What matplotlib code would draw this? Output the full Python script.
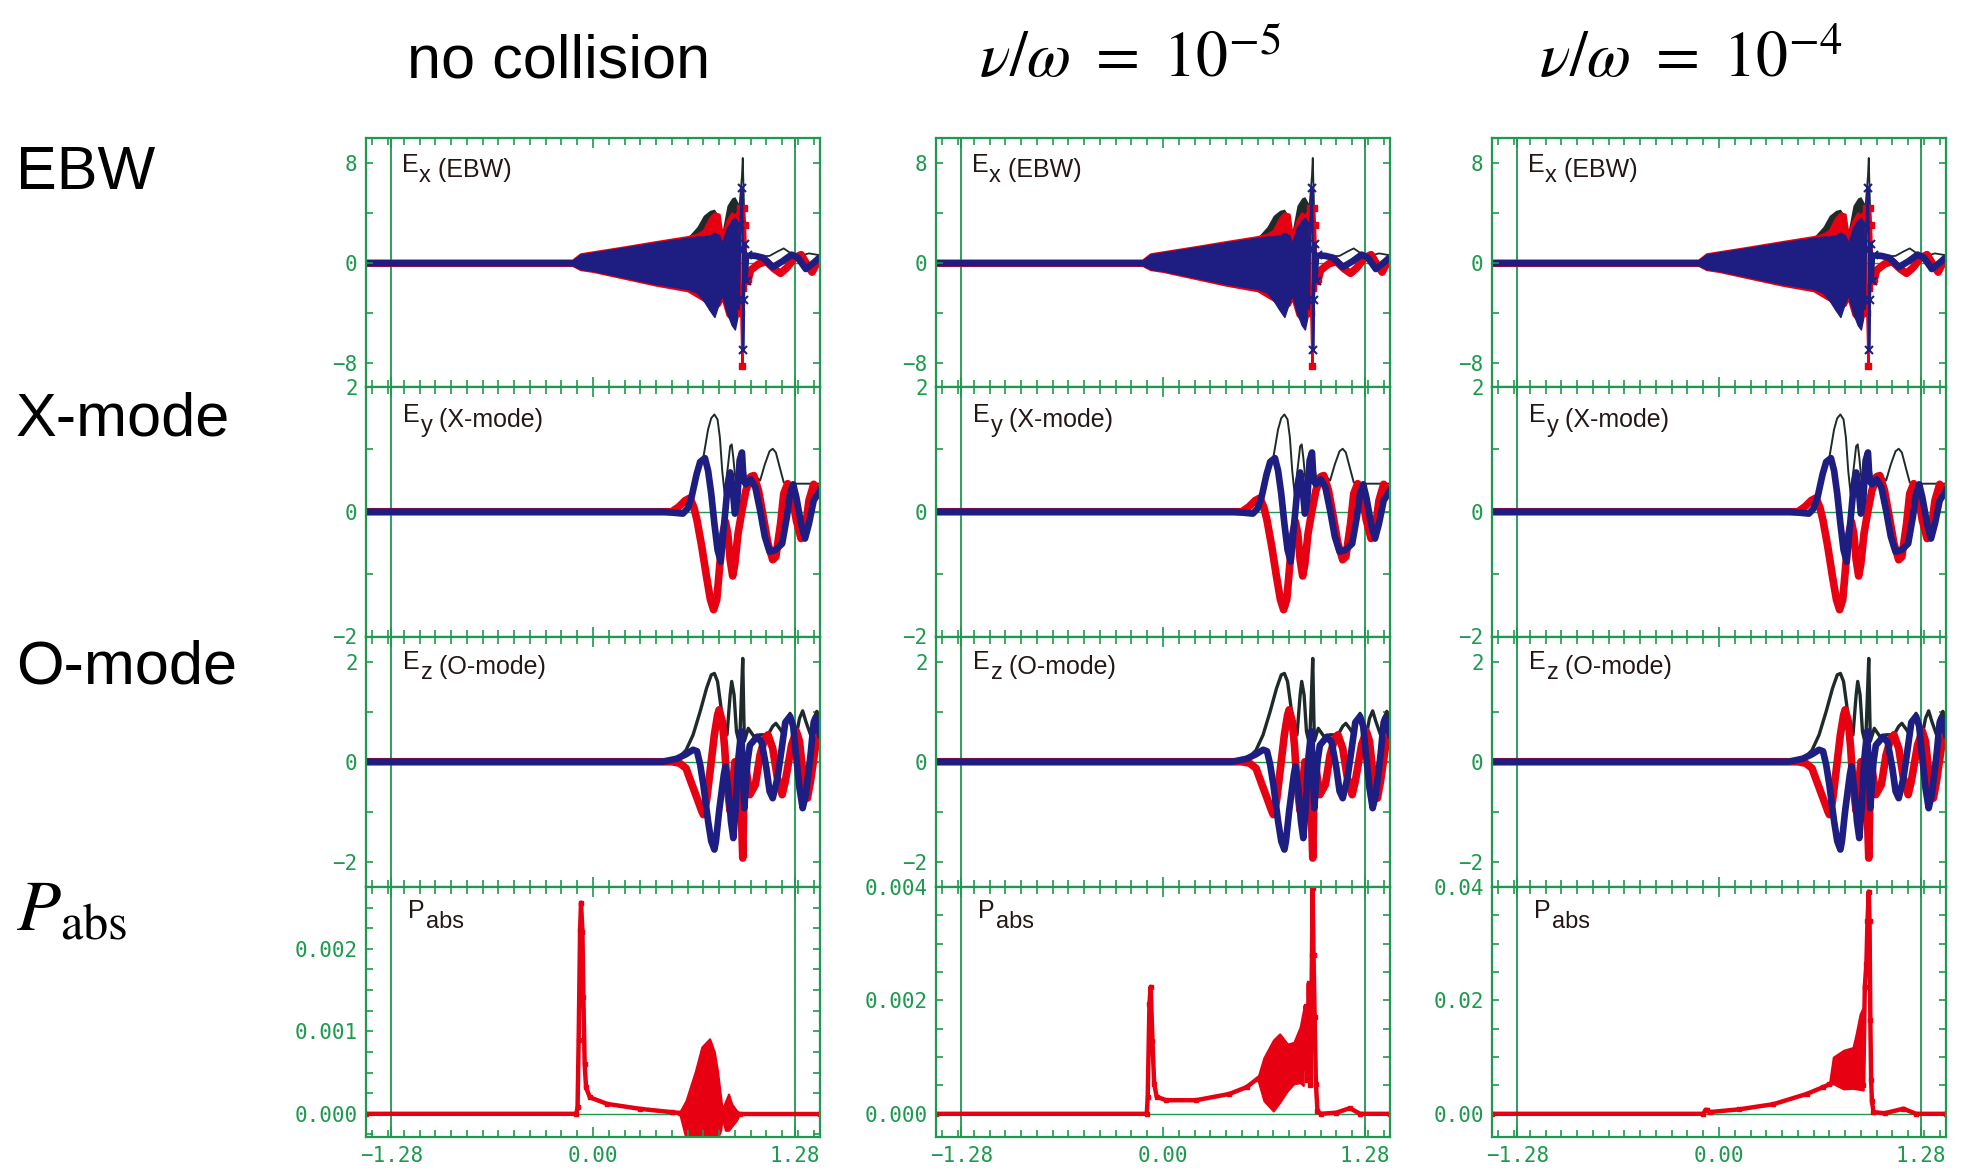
import numpy as np
import matplotlib.pyplot as plt
from matplotlib.ticker import MultipleLocator

plt.rcParams['font.family'] = ['Liberation Sans', 'DejaVu Sans']
plt.rcParams['mathtext.fontset'] = 'stix'

GREEN = '#1d9a4e'
RED = '#e60012'
BLUE = '#1e1e82'
DARK = '#1f2b2b'
TXT = '#231815'

# ---- column / row titles
col_titles = ['no collision', r'$\nu/\omega\ =\ 10^{-5}$', r'$\nu/\omega\ =\ 10^{-4}$']
row_titles = ['EBW', 'X-mode', 'O-mode', r'$P_{\mathrm{abs}}$']
# panel label pieces: main letter, lowered letters, rest
panel_main = ['E', 'E', 'E', 'P']
panel_sub = ['x', 'y', 'z', 'abs']
panel_rest = [' (EBW)', ' (X-mode)', ' (O-mode)', '']

# ---- Ex (EBW): envelope of the fast oscillation, then spike and tail
ebw_env_x = [-1.44, -0.13, -0.08, 0.00, 0.20, 0.40, 0.60, 0.66, 0.70, 0.74, 0.77, 0.80, 0.82, 0.85, 0.88, 0.90, 0.93]
ebw_blk_hi = [0.0, 0.15, 0.70, 0.85, 1.25, 1.65, 2.05, 2.9, 3.8, 4.2, 4.3, 3.7, 2.6, 4.6, 5.2, 5.3, 4.6]
ebw_red_hi = [0.22, 0.22, 0.72, 0.88, 1.28, 1.70, 2.10, 2.3, 2.6, 3.6, 4.0, 3.9, 2.2, 3.4, 4.0, 3.8, 4.4]
ebw_red_lo = [-0.22, -0.22, -0.55, -0.70, -1.25, -1.80, -2.25, -2.7, -3.0, -3.4, -3.6, -3.4, -2.9, -4.2, -4.6, -4.3, -3.8]
ebw_blu_hi = [0.2, 0.2, 0.65, 0.82, 1.22, 1.62, 2.00, 2.1, 2.1, 2.2, 2.4, 2.2, 1.6, 2.8, 3.4, 3.6, 3.0]
ebw_blu_lo = [-0.2, -0.2, -0.50, -0.64, -1.17, -1.70, -2.10, -2.4, -3.0, -3.8, -4.35, -3.2, -2.6, -4.0, -5.0, -5.35, -3.5]

ebw_spk_red_x = [0.93, 0.94, 0.948, 0.952, 0.958, 0.965, 0.975, 0.985]
ebw_spk_red_y = [4.4, -4.0, -8.3, -2.0, 4.4, 3.0, -1.5, -1.3]
ebw_spk_blu_x = [0.925, 0.935, 0.945, 0.950, 0.953, 0.958, 0.965, 0.975, 0.985]
ebw_spk_blu_y = [-3.0, 3.0, 6.0, 1.0, -7.0, -3.0, 1.5, -1.5, 0.6]

ebw_red_x = [0.985, 1.00, 1.05, 1.10, 1.15, 1.19, 1.23, 1.28, 1.32, 1.36, 1.39, 1.44]
ebw_red_y = [-1.3, -0.6, -0.1, 0.1, -0.5, -0.85, -0.4, 0.4, 0.65, -0.2, -0.75, 0.45]
ebw_blu_x = [0.985, 1.03, 1.08, 1.14, 1.20, 1.26, 1.30, 1.35, 1.40, 1.44]
ebw_blu_y = [0.6, 0.55, 0.4, -0.35, 0.1, 0.65, 0.4, -0.5, 0.0, 0.45]
ebw_blk_x = [0.93, 0.945, 0.95, 0.955, 0.965, 0.99, 1.05, 1.12, 1.17, 1.21, 1.25, 1.30, 1.37, 1.44]
ebw_blk_y = [4.6, 7.0, 8.4, 6.0, 0.9, 0.6, 0.5, 0.55, 0.9, 1.15, 0.8, 0.5, 0.75, 0.6]

# ---- Ey (X-mode)
ey_red_x = [-1.44, 0.50, 0.545, 0.585, 0.615, 0.64, 0.66, 0.69, 0.72, 0.745, 0.765, 0.785, 0.80, 0.82, 0.84,
            0.855, 0.87, 0.886, 0.90, 0.92, 0.945, 0.97, 1.00, 1.02, 1.05, 1.08, 1.11, 1.14, 1.16, 1.19,
            1.21, 1.235, 1.26, 1.29, 1.32, 1.345, 1.37, 1.40, 1.44]
ey_red_y = [0, 0, 0.08, 0.18, 0.22, 0.07, -0.14, -0.56, -1.04, -1.41, -1.57, -1.41, -0.98, -0.40, -0.16,
            -0.35, -0.77, -1.03, -0.83, -0.35, 0.02, 0.34, 0.56, 0.58, 0.34, -0.08, -0.51, -0.77, -0.72, -0.19,
            0.29, 0.45, 0.29, -0.14, -0.43, -0.30, 0.18, 0.44, 0.29]
ey_blu_x = [-1.44, 0.45, 0.57, 0.60, 0.625, 0.657, 0.68, 0.71, 0.73, 0.75, 0.77, 0.79, 0.81, 0.82, 0.84,
            0.855, 0.87, 0.885, 0.90, 0.915, 0.93, 0.945, 0.955, 0.97, 1.00, 1.03, 1.06, 1.09, 1.12, 1.16,
            1.20, 1.23, 1.25, 1.27, 1.29, 1.32, 1.345, 1.37, 1.40, 1.44]
ey_blu_y = [0, 0, -0.03, 0.05, 0.23, 0.60, 0.80, 0.86, 0.66, 0.29, -0.19, -0.61, -0.80, -0.51, 0.02,
            0.44, 0.63, 0.39, -0.03, 0.18, 0.82, 0.95, 0.50, 0.44, 0.52, 0.39, 0.02, -0.40, -0.64, -0.61,
            -0.51, -0.08, 0.29, 0.44, 0.23, -0.19, -0.43, -0.19, 0.18, 0.34]
ey_blk_x = [-1.44, 0.57, 0.60, 0.657, 0.70, 0.73, 0.75, 0.77, 0.79, 0.805, 0.82, 0.835, 0.855, 0.87, 0.88,
            0.89, 0.91, 0.92, 0.94, 0.95, 0.97, 1.00, 1.04, 1.06, 1.09, 1.12, 1.14, 1.16, 1.19, 1.21,
            1.23, 1.44]
ey_blk_y = [0, 0, 0.05, 0.50, 0.87, 1.32, 1.50, 1.56, 1.48, 1.19, 0.65, 0.29, 0.71, 1.05, 1.08,
            0.87, 0.34, 0.29, 0.82, 0.92, 0.55, 0.61, 0.55, 0.50, 0.76, 0.97, 1.01, 0.95, 0.66, 0.47,
            0.45, 0.45]

# ---- Ez (O-mode)
ez_red_x = [-1.44, 0.50, 0.55, 0.59, 0.62, 0.66, 0.69, 0.70, 0.72, 0.745, 0.77, 0.79, 0.80, 0.82, 0.835,
            0.85, 0.87, 0.88, 0.90, 0.92, 0.94, 0.95, 0.96, 0.97, 0.995, 1.03, 1.06, 1.09, 1.11, 1.14,
            1.17, 1.20, 1.22, 1.26, 1.29, 1.31, 1.33, 1.36, 1.38, 1.41, 1.44]
ez_red_y = [0, 0, -0.03, -0.13, -0.39, -0.73, -0.99, -1.06, -0.79, -0.13, 0.54, 0.93, 1.04, 0.81, 0.29,
            -0.46, -0.99, -0.66, 0.0, -0.13, -0.93, -1.93, -0.26, -0.13, -0.66, -0.46, 0.14, 0.47, 0.54, 0.27,
            -0.33, -0.66, -0.39, 0.34, 0.61, 0.41, -0.19, -0.73, -0.39, 0.27, 0.54]
ez_blu_x = [-1.44, 0.44, 0.53, 0.59, 0.635, 0.66, 0.68, 0.70, 0.73, 0.75, 0.77, 0.78, 0.80, 0.83, 0.84,
            0.86, 0.875, 0.89, 0.905, 0.92, 0.94, 0.95, 0.96, 0.98, 0.995, 1.04, 1.07, 1.10, 1.12, 1.14,
            1.17, 1.20, 1.22, 1.25, 1.27, 1.29, 1.31, 1.33, 1.35, 1.38, 1.40, 1.41, 1.44]
ez_blu_y = [0, 0, 0.06, 0.15, 0.24, 0.21, -0.06, -0.46, -1.19, -1.59, -1.76, -1.59, -0.99, -0.26, -0.09,
            -0.59, -1.19, -1.53, -0.93, 0.0, 0.61, -0.13, -0.93, 0.0, 0.33, 0.50, 0.39, -0.13, -0.59, -0.73,
            -0.33, 0.33, 0.79, 0.91, 0.71, 0.07, -0.53, -0.93, -0.66, 0.14, 0.79, 0.87, 0.54]
ez_blk_x = [-1.44, 0.53, 0.59, 0.635, 0.68, 0.72, 0.75, 0.77, 0.79, 0.81, 0.83, 0.85, 0.87, 0.88, 0.895,
            0.91, 0.93, 0.94, 0.95, 0.955, 0.96, 0.985, 1.02, 1.06, 1.11, 1.14, 1.16, 1.19, 1.21, 1.23,
            1.25, 1.26, 1.29, 1.31, 1.33, 1.35, 1.38, 1.40, 1.42, 1.44]
ez_blk_y = [0, 0.04, 0.23, 0.54, 1.01, 1.47, 1.74, 1.77, 1.61, 1.14, 0.67, 0.54, 1.34, 1.61, 1.34,
            0.61, 0.34, 1.21, 2.07, 1.21, 0.41, 0.67, 0.51, 0.54, 0.54, 0.71, 0.77, 0.64, 0.54, 0.84,
            0.97, 0.81, 0.54, 0.87, 1.02, 0.81, 0.54, 0.87, 1.01, 0.74]

# ---- Pabs, one set per column: line, oscillating blob envelope, spike/tail
pabs_x = [
    [-1.44, -0.105, -0.098, -0.091, -0.082, -0.076, -0.067, -0.061, -0.053, -0.044, -0.02, 0.09, 0.30, 0.50, 0.55],
    [-1.44, -0.103, -0.097, -0.086, -0.078, -0.067, -0.056, -0.04, 0.02, 0.21, 0.42, 0.53, 0.60],
    [-1.44, -0.10, -0.085, -0.075, -0.06, 0.13, 0.345, 0.556, 0.66, 0.70],
]
pabs_y = [
    [0, 0, 0.00008, 0.00089, 0.00223, 0.00256, 0.00221, 0.00142, 0.00061, 0.00032, 0.0002, 0.00012, 0.00006, 0.00002, 0.00001],
    [0, 0, 0.00029, 0.00194, 0.00224, 0.00129, 0.00053, 0.0003, 0.00024, 0.00024, 0.00035, 0.00047, 0.00062],
    [0, 0, 0.0007, 0.0006, 0.0003, 0.0008, 0.0017, 0.0035, 0.0047, 0.0052],
]
pabs_blob_x = [
    [0.55, 0.59, 0.65, 0.69, 0.74, 0.77, 0.79, 0.81, 0.82, 0.84, 0.86, 0.88, 0.91, 0.93],
    [0.60, 0.64, 0.70, 0.74, 0.79, 0.83, 0.87, 0.89],
    [0.70, 0.725, 0.79, 0.85, 0.87, 0.895, 0.915],
]
pabs_blob_hi = [
    [0.00002, 0.00016, 0.00052, 0.00081, 0.00091, 0.00075, 0.00052, 0.0002, 0.00005, 0.00015, 0.00024, 0.00012, 0.00004, 0.00001],
    [0.00062, 0.00099, 0.0013, 0.00141, 0.00123, 0.00126, 0.00153, 0.00182],
    [0.0052, 0.010, 0.0112, 0.0117, 0.0141, 0.0176, 0.0188],
]
pabs_blob_lo = [
    [0.0, -0.0003, -0.0003, -0.0003, -0.0003, -0.0003, -0.0003, -0.0002, -0.00005, -0.0002, -0.0002, -0.00015, -0.00008, 0.0],
    [0.00062, 0.00023, 0.00005, 0.0002, 0.00041, 0.00053, 0.00055, 0.0005],
    [0.0052, 0.0053, 0.0044, 0.0045, 0.0044, 0.0043, 0.0042],
]
pabs_tail_x = [
    [0.93, 1.44],
    [0.89, 0.905, 0.915, 0.925, 0.935, 0.945, 0.949, 0.955, 0.962, 0.97, 0.98, 1.0, 1.10, 1.185, 1.25, 1.44],
    [0.915, 0.925, 0.935, 0.942, 0.95, 0.955, 0.96, 0.965, 0.97, 0.98, 1.05, 1.17, 1.25, 1.44],
]
pabs_tail_y = [
    [0.0, 0.0],
    [0.0008, 0.0019, 0.0006, 0.0023, 0.0005, 0.0028, 0.00398, 0.0028, 0.0017, 0.00053, 0.00005, 0.0, 0.00002, 0.0001, 0.0, 0.0],
    [0.0050, 0.0224, 0.0265, 0.034, 0.0392, 0.034, 0.0165, 0.006, 0.0023, 0.0003, 0.0001, 0.0009, 0.0, 0.0],
]
pabs_top = [0.00275, 0.004, 0.04]
pabs_ticks = [[0, 0.001, 0.002], [0, 0.002, 0.004], [0, 0.02, 0.04]]
pabs_ticklabels = [['0.000', '0.001', '0.002'], ['0.000', '0.002', '0.004'], ['0.00', '0.02', '0.04']]
pabs_minor = [0.00025, 0.0005, 0.005]

# ---- layout (pixels of the 1977x1170 figure)
W, H = 1977, 1170
lefts = [366, 936, 1492]
tops = [138, 387, 637, 887]
aw, ah = 454, 249.5

fig = plt.figure(figsize=(W / 100, H / 100), dpi=100)


def style(ax, ylim, yticks, ylabels, yminor, bottom):
    ax.set_xlim(-1.44, 1.44)
    ax.set_ylim(*ylim)
    for s in ax.spines.values():
        s.set_color(GREEN)
        s.set_linewidth(1.6)
    ax.axvline(-1.28, color=GREEN, lw=1.3, zorder=0.5)
    ax.axvline(1.28, color=GREEN, lw=1.3, zorder=0.5)
    ax.axhline(0, color=GREEN, lw=1.0, zorder=0.5)
    ax.set_xticks([-1.28, 0, 1.28], ['\u22121.28', '0.00', '1.28'] if bottom else ['', '', ''])
    ax.xaxis.set_minor_locator(MultipleLocator(0.1))
    ax.set_yticks(yticks, ylabels)
    ax.yaxis.set_minor_locator(MultipleLocator(yminor))
    ax.tick_params(which='both', direction='in', top=True, right=True, color=GREEN,
                   labelcolor=GREEN, width=1.2, labelsize=15, labelfontfamily='DejaVu Sans Mono')
    ax.tick_params(axis='x', which='major', length=7, pad=7)
    ax.tick_params(axis='x', which='minor', length=5)
    ax.tick_params(axis='y', which='both', length=5, pad=6)


def panel_label(ax, r, x, y):
    t1 = ax.text(x, y, panel_main[r], transform=ax.transAxes, fontsize=18, color=TXT,
                 va='baseline', ha='left')
    t2 = ax.annotate(panel_sub[r], xy=(1, 0), xycoords=t1, xytext=(0.5, -3.5),
                     textcoords='offset points', fontsize=17, color=TXT, va='baseline', ha='left')
    if panel_rest[r]:
        ax.annotate(panel_rest[r], xy=(1, 0), xycoords=(t2, t1), xytext=(0, 0),
                    textcoords='offset points', fontsize=18, color=TXT, va='baseline', ha='left')


for c in range(3):
    axes = []
    for r in range(4):
        ax = fig.add_axes([lefts[c] / W, 1 - (tops[r] + ah) / H, aw / W, ah / H])
        axes.append(ax)

    # EBW
    ax = axes[0]
    ax.fill_between(ebw_env_x, 0, ebw_blk_hi, color=DARK, lw=0)
    ax.fill_between(ebw_env_x, ebw_red_lo, ebw_red_hi, color=RED, lw=1.5)
    ax.fill_between(ebw_env_x, ebw_blu_lo, ebw_blu_hi, color=BLUE, lw=1.0)
    ax.plot(ebw_blk_x, ebw_blk_y, color=DARK, lw=1.3)
    ax.plot(ebw_red_x, ebw_red_y, color=RED, lw=5.5, solid_capstyle='butt')
    ax.plot(ebw_blu_x, ebw_blu_y, color=BLUE, lw=4.8, solid_capstyle='butt')
    ax.plot(ebw_spk_red_x, ebw_spk_red_y, color=RED, lw=1.6, marker='s', ms=5)
    ax.plot(ebw_spk_blu_x, ebw_spk_blu_y, color=BLUE, lw=1.6, marker='x', ms=6, mew=1.5)
    style(ax, (-10, 10), [-8, 0, 8], ['\u22128', '0', '8'], 4, False)

    # X-mode
    ax = axes[1]
    ax.plot(ey_blk_x, ey_blk_y, color=DARK, lw=1.4)
    ax.plot(ey_red_x, ey_red_y, color=RED, lw=5.5)
    ax.plot(ey_blu_x, ey_blu_y, color=BLUE, lw=4.8)
    style(ax, (-2, 2), [-2, 0, 2], ['\u22122', '0', '2'], 1, False)

    # O-mode
    ax = axes[2]
    ax.plot(ez_blk_x, ez_blk_y, color=DARK, lw=2.4)
    ax.plot(ez_red_x, ez_red_y, color=RED, lw=5.5)
    ax.plot(ez_blu_x, ez_blu_y, color=BLUE, lw=4.8)
    style(ax, (-2.5, 2.5), [-2, 0, 2], ['\u22122', '0', '2'], 1, False)

    # Pabs
    ax = axes[3]
    ax.plot(pabs_x[c], pabs_y[c], color=RED, lw=3.2, marker='s', ms=3)
    ax.fill_between(pabs_blob_x[c], pabs_blob_lo[c], pabs_blob_hi[c], color=RED, lw=1.5)
    ax.plot(pabs_tail_x[c], pabs_tail_y[c], color=RED, lw=3.2, marker='s', ms=3)
    top = pabs_top[c]
    style(ax, (-0.1 * top, top), pabs_ticks[c], pabs_ticklabels[c], pabs_minor[c], True)

    for r, ax in enumerate(axes):
        panel_label(ax, r, [0.079, 0.082, 0.082, 0.093][r], [0.862, 0.858, 0.870, 0.874][r])

# column titles
for x, t, fs in zip([559, 1130, 1691], col_titles, [44, 46, 46]):
    fig.text(x / W, 1 - 77 / H, t, ha='center', va='baseline', fontsize=fs, color='black')

# row titles
for y, t, fs in zip([189, 436, 683, 930], row_titles, [44, 44, 44, 52]):
    fig.text(16 / W, 1 - y / H, t, ha='left', va='baseline', fontsize=fs, color='black')

fig.savefig('out.png', dpi=100)
